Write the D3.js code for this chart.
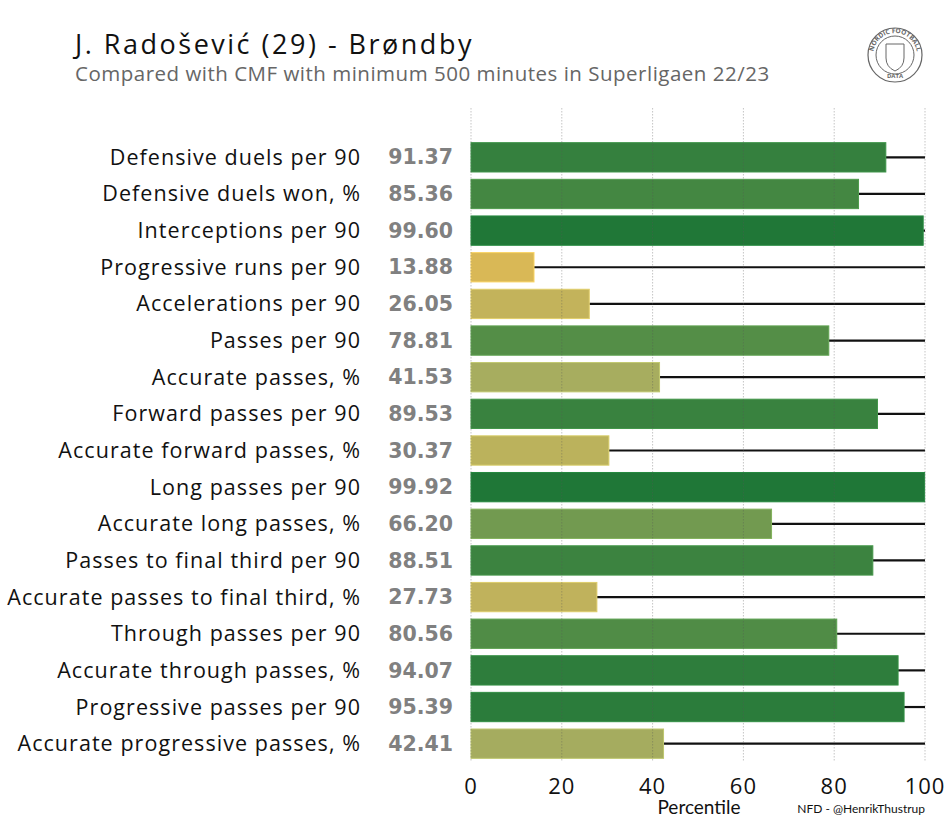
<!DOCTYPE html>
<html>
<head>
<meta charset="utf-8">
<script src="https://cdn.jsdelivr.net/npm/d3@7"></script>
<style>
  body { margin: 0; background: #fff; }
  text { font-family: "Open Sans", sans-serif; }
</style>
</head>
<body>
<svg id="chart" width="950" height="823"></svg>
<script>
// metrics, top to bottom
const metrics = [
  "Defensive duels per 90", "Defensive duels won, %", "Interceptions per 90",
  "Progressive runs per 90", "Accelerations per 90", "Passes per 90",
  "Accurate passes, %", "Forward passes per 90", "Accurate forward passes, %",
  "Long passes per 90", "Accurate long passes, %", "Passes to final third per 90",
  "Accurate passes to final third, %", "Through passes per 90",
  "Accurate through passes, %", "Progressive passes per 90",
  "Accurate progressive passes, %"
];
const percentiles = [91.37, 85.36, 99.60, 13.88, 26.05, 78.81, 41.53, 89.53, 30.37,
  99.92, 66.20, 88.51, 27.73, 80.56, 94.07, 95.39, 42.41];
const ticks = [0, 20, 40, 60, 80, 100];

const title = "J. Radošević (29) - Brøndby";
const subtitle = "Compared with CMF with minimum 500 minutes in Superligaen 22/23";

const svg = d3.select("#chart");

const x = d3.scaleLinear().domain([0, 100]).range([471, 925]);
const y = d3.scaleBand().domain(metrics).range([139, 762]).paddingInner(0.2).paddingOuter(0.1);
const color = d3.scaleLinear()
  .domain([10, 40, 70, 100])
  .range(["#e0b955", "#aaae60", "#6a974e", "#1f7737"]);

// title
svg.append("text").attr("x", 75).attr("y", 54)
  .style("font-size", "27px").style("letter-spacing", "2.5px")
  .style("fill", "#111").text(title);
svg.append("text").attr("x", 75).attr("y", 81)
  .style("font-size", "20.5px").style("letter-spacing", "0.5px")
  .style("fill", "#666").text(subtitle);

// remaining line to 100
svg.append("g").selectAll("line").data(percentiles).join("line")
  .attr("x1", d => x(d)).attr("x2", x(100))
  .attr("y1", (d, i) => y(metrics[i]) + y.bandwidth() / 2)
  .attr("y2", (d, i) => y(metrics[i]) + y.bandwidth() / 2)
  .attr("stroke", "#111").attr("stroke-width", 2.2);

// bars
svg.append("g").selectAll("rect").data(percentiles).join("rect")
  .attr("x", x(0)).attr("y", (d, i) => y(metrics[i]))
  .attr("width", d => x(d) - x(0)).attr("height", y.bandwidth())
  .attr("fill", d => color(d))
  .attr("stroke", d => d3.color(color(d)).brighter(0.4))
  .attr("stroke-width", 1);

// grid on top of bars
svg.append("g").selectAll("line").data(ticks).join("line")
  .attr("x1", d => x(d)).attr("x2", d => x(d))
  .attr("y1", 108).attr("y2", 762)
  .attr("stroke", "#555").attr("stroke-opacity", 0.35)
  .attr("stroke-width", 1).attr("stroke-dasharray", "1.5,1.5");

// category labels
svg.append("g").selectAll("text").data(metrics).join("text")
  .attr("x", 361).attr("y", d => y(d) + y.bandwidth() / 2)
  .attr("dy", "0.35em").attr("text-anchor", "end")
  .style("font-size", "21.5px").style("letter-spacing", "1.05px")
  .style("fill", "#111").text(d => d);

// value labels
svg.append("g").selectAll("text").data(percentiles).join("text")
  .attr("x", 453).attr("y", (d, i) => y(metrics[i]) + y.bandwidth() / 2)
  .attr("dy", "0.35em").attr("text-anchor", "end")
  .style("font-family", "'DejaVu Sans', sans-serif")
  .style("font-weight", "bold")
  .style("font-size", "20.5px").style("fill", "#808080").text(d => d.toFixed(2));

// x axis tick labels
svg.append("g").selectAll("text").data(ticks).join("text")
  .attr("x", d => x(d)).attr("y", 794).attr("text-anchor", "middle")
  .style("font-size", "22px").style("letter-spacing", "1px")
  .style("fill", "#111").text(d => d);

svg.append("text").attr("x", 699).attr("y", 814).attr("text-anchor", "middle")
  .style("font-family", "Lato, sans-serif")
  .style("font-size", "19px").style("fill", "#111").text("Percentile");
svg.append("text").attr("x", 925).attr("y", 813).attr("text-anchor", "end")
  .style("font-family", "Lato, sans-serif")
  .style("font-size", "12px").style("fill", "#111").text("NFD - @HenrikThustrup");

// logo
const logo = svg.append("g").attr("transform", "translate(895,55)");
logo.append("circle").attr("r", 27).attr("fill", "none").attr("stroke", "#666").attr("stroke-width", 1.2);
logo.append("circle").attr("r", 19).attr("fill", "none").attr("stroke", "#666").attr("stroke-width", 1);
logo.append("path").attr("d", "M-9,-11 L9,-11 L9,3 Q9,12 0,16 Q-9,12 -9,3 Z")
  .attr("fill", "none").attr("stroke", "#666").attr("stroke-width", 1);
const arc = d3.arc()({innerRadius: 22, outerRadius: 22, startAngle: -1.6, endAngle: 1.6});
logo.append("path").attr("id", "logoArc").attr("d", arc).attr("fill", "none");
logo.append("text").style("font-size", "6.5px").style("fill", "#666").style("font-weight", "bold")
  .append("textPath").attr("href", "#logoArc").attr("startOffset", "25%").attr("text-anchor", "middle")
  .text("NORDIC FOOTBALL");
logo.append("text").attr("y", 23).attr("text-anchor", "middle")
  .style("font-size", "6px").style("fill", "#666").style("font-weight", "bold").text("DATA");
</script>
</body>
</html>
